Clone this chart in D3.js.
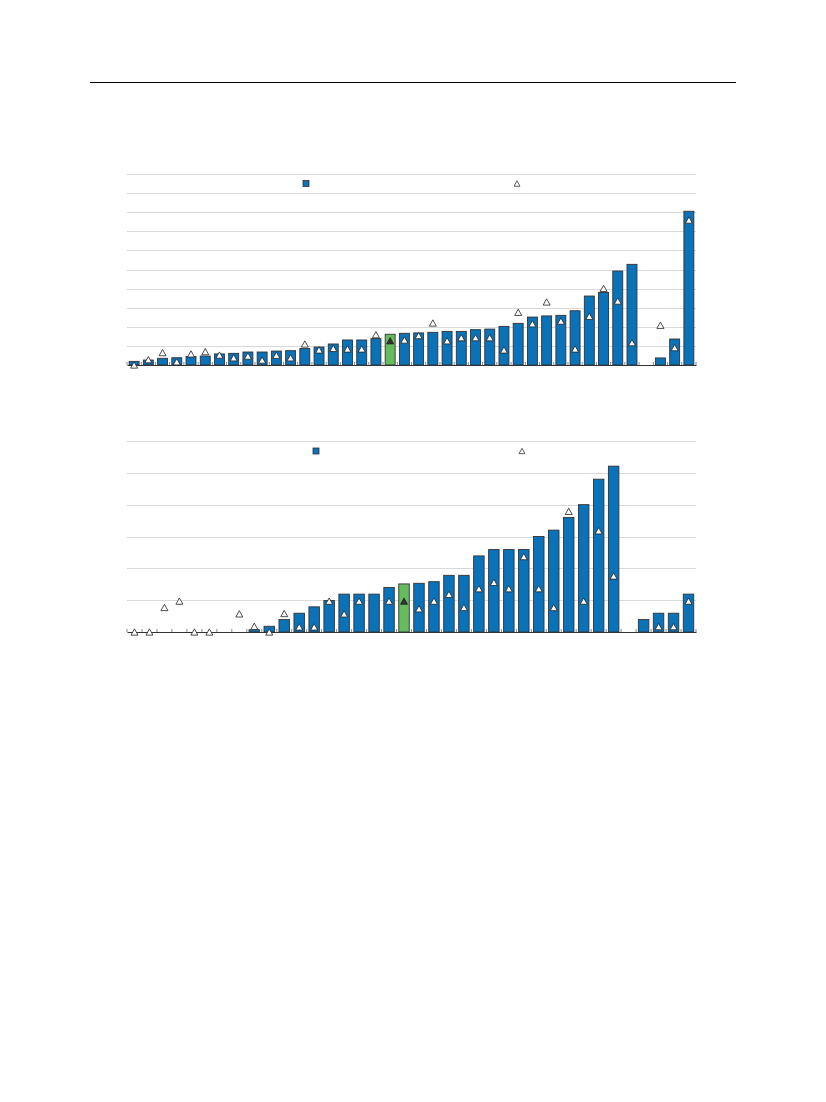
<!DOCTYPE html>
<html>
<head>
<meta charset="utf-8">
<script src="https://cdn.jsdelivr.net/npm/d3@7"></script>
<style>
  body { margin: 0; background: #fff; }
  svg { display: block; }
</style>
</head>
<body>
<svg id="chart" width="826" height="1102"></svg>
<script>
// ---------- DATA ----------
// Panel A: 40 slots (index 36 is an empty separator slot)
const catsA = d3.range(40).map(i => "A" + i);
const barsA = [0.19,0.26,0.35,0.38,0.45,0.47,0.58,0.61,0.68,0.68,0.73,0.75,0.86,0.94,1.1,1.31,1.31,1.38,1.61,1.66,
               1.68,1.71,1.76,1.76,1.85,1.88,2.02,2.18,2.51,2.57,2.6,2.84,3.61,3.8,4.92,5.27,null,0.37,1.36,8.05];
const triA = [0.0,0.28,0.65,0.17,0.58,0.7,0.52,0.38,0.47,0.26,0.51,0.38,1.1,0.79,0.87,0.84,0.84,1.59,1.27,1.31,
              1.54,2.2,1.27,1.43,1.43,1.43,0.79,2.76,2.16,3.3,2.3,0.84,2.55,4.01,3.35,1.17,null,2.08,0.91,7.59];
const highlightA = 18;
const ticksA = d3.range(0, 11, 1);

// Panel B: 38 slots (index 33 is an empty separator slot)
const catsB = d3.range(38).map(i => "B" + i);
const barsB = [null,null,null,null,null,null,null,null,0.07,0.18,0.39,0.59,0.79,0.99,1.19,1.19,1.19,1.4,1.51,1.53,
               1.58,1.78,1.78,2.39,2.59,2.59,2.59,3.0,3.2,3.6,4.0,4.8,5.21,null,0.39,0.59,0.59,1.19];
const triB = [0,0,0.77,0.97,0,0,null,0.57,0.18,0,0.58,0.16,0.16,0.97,0.57,0.97,null,0.97,0.97,0.73,
              0.97,1.18,0.77,1.36,1.56,1.36,2.37,1.36,0.77,3.79,0.97,3.18,1.76,null,null,0.17,0.17,0.97];
const highlightB = 18;
const ticksB = d3.range(0, 7, 1);

// ---------- STYLE ----------
const BLUE = "#0a72b9", GREEN = "#66bb5e", STROKE = "#333333", GRID = "#d9d9d9";

const svg = d3.select("#chart");

// top rule
svg.append("line").attr("x1", 90).attr("x2", 736).attr("y1", 82.5).attr("y2", 82.5)
  .attr("stroke", "#000").attr("stroke-width", 1.2);

function triPath(cx, cy, s) {
  const h = s * 0.9;
  return `M${cx},${cy - h/2} L${cx + s/2},${cy + h/2} L${cx - s/2},${cy + h/2} Z`;
}

function panel(opts) {
  const { cats, bars, tris, hi, ticks, top, bottom, legendSq, legendTri, maxV } = opts;
  const x = d3.scaleBand().domain(cats).range([127, 696]).paddingInner(0.3).paddingOuter(0.15);
  const y = d3.scaleLinear().domain([0, maxV]).range([bottom, top]);
  const g = svg.append("g");

  // gridlines
  g.append("g").selectAll("line").data(ticks.filter(t => t > 0)).join("line")
    .attr("x1", 127).attr("x2", 696)
    .attr("y1", d => Math.round(y(d)) + 0.5).attr("y2", d => Math.round(y(d)) + 0.5)
    .attr("stroke", GRID).attr("stroke-width", 1);

  // legend
  g.append("rect").attr("x", legendSq[0] - 3).attr("y", legendSq[1] - 3).attr("width", 6).attr("height", 6)
    .attr("fill", BLUE).attr("stroke", STROKE).attr("stroke-width", 0.8);
  g.append("path").attr("d", triPath(legendTri[0], legendTri[1], 6))
    .attr("fill", "#fff").attr("stroke", STROKE).attr("stroke-width", 0.8);

  // bars
  const step = x.step();
  g.append("g").selectAll("rect").data(cats.map((c, i) => ({ c, i, v: bars[i] })).filter(d => d.v != null))
    .join("rect")
    .attr("x", d => x(d.c))
    .attr("width", x.bandwidth())
    .attr("y", d => y(d.v))
    .attr("height", d => y(0) - y(d.v))
    .attr("fill", d => d.i === hi ? GREEN : BLUE)
    .attr("stroke", STROKE).attr("stroke-width", 0.9);

  // axis line + ticks at slot boundaries
  const axis = d3.axisBottom(x).tickSize(0).tickFormat("");
  const ax = g.append("g").attr("transform", `translate(0,${y(0)})`).call(axis);
  ax.select(".domain").attr("stroke", STROKE).attr("stroke-width", 1.2);
  g.append("g").selectAll("line").data(cats).join("line")
    .attr("x1", d => x(d) - step * 0.15).attr("x2", d => x(d) - step * 0.15)
    .attr("y1", y(0)).attr("y2", y(0) - 3)
    .attr("stroke", "#888").attr("stroke-width", 1);
  g.append("line").attr("x1", 696).attr("x2", 696).attr("y1", y(0)).attr("y2", y(0) - 3)
    .attr("stroke", "#888");

  // triangles
  g.append("g").selectAll("path").data(cats.map((c, i) => ({ c, i, v: tris[i] })).filter(d => d.v != null))
    .join("path")
    .attr("d", d => triPath(x(d.c) + x.bandwidth() / 2, y(d.v), 7))
    .attr("fill", d => d.i === hi ? "#333" : "#fff")
    .attr("stroke", "#222").attr("stroke-width", 0.8);
}

panel({ cats: catsA, bars: barsA, tris: triA, hi: highlightA, ticks: ticksA,
        top: 174, bottom: 365, maxV: 10, legendSq: [306, 183.5], legendTri: [517, 183.5] });
panel({ cats: catsB, bars: barsB, tris: triB, hi: highlightB, ticks: ticksB,
        top: 441, bottom: 632, maxV: 6, legendSq: [316, 451], legendTri: [522, 451] });
</script>
</body>
</html>
